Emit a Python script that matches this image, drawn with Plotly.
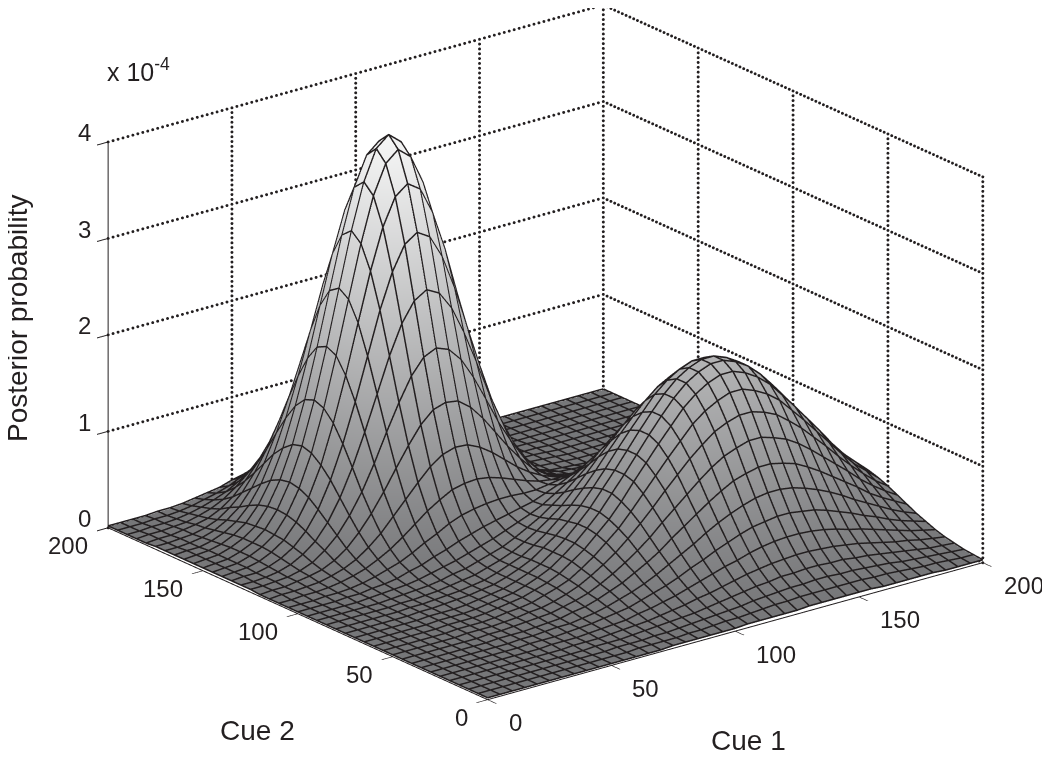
import plotly.graph_objects as go

# Heights, in units of 1e-6 (rows: Cue 2, columns: Cue 1)
cue1 = list(range(0, 201, 5))
cue2 = list(range(0, 201, 5))
r000 = [1]*15 + [2,2,2,2,2,2,3,3,3,3,3,4,4,4,4,4,4,3,3,3,3,3,2,2,2,2]
r005 = [1]*13 + [2,2,2,2,3,3,4,5,5,6,7,8,8,9,9,9,9,9,9,8,8,7,6,5,5,4,3,3]
r010 = [1]*12 + [2,2,2,3,3,4,5,6,7,8,9,11,12,13,14,14,15,15,14,14,13,12,11,9,8,7,6,5,4]
r015 = [1]*11 + [2,2,2,3,4,5,6,7,8,10,12,14,16,18,19,21,21,22,22,21,21,19,18,16,14,12,10,8,7,6]
r020 = [1]*10 + [2,2,2,3,4,5,6,8,10,12,15,17,20,23,26,28,30,31,32,32,31,30,28,26,23,20,17,15,12,10,8]
r025 = [1]*9 + [2,2,2,3,4,5,6,9,11,14,17,21,25,29,33,36,40,43,45,46,46,45,43,40,36,33,29,25,21,17,14,11]
r030 = [1]*8 + [2,2,2,3,4,5,7,9,11,15,19,23,28,34,39,45,50,55,59,61,63,63,61,59,55,50,45,39,34,28,23,19,15]
r035 = [1]*8 + [2,2,3,4,4,6,8,11,15,19,24,30,37,44,51,59,66,72,77,81,83,83,81,77,72,66,59,51,44,37,30,24,19]
r040 = [1]*7 + [2,2,2,3,4,5,8,10,14,19,24,31,38,46,56,65,74,83,91,98,102,105,105,102,98,91,83,74,65,56,46,38,31,24]
r045 = [1]*7 + [2,2,3,4,5,6,9,12,16,22,29,37,46,56,68,79,90,101,111,119,124,128,128,124,119,111,101,90,79,68,56,46,37,29]
r050 = [1]*6 + [2,2,2,3,4,6,7,10,14,19,26,34,43,54,66,79,93,106,119,130,140,146,150,150,146,140,130,119,106,93,79,66,54,43,34]
r055 = [1]*6 + [2,2,2,3,5,6,8,12,16,21,29,38,49,60,74,89,104,119,133,147,157,164,169,169,164,157,147,133,119,104,89,74,60,49,38]
r060 = [1]*6 + [2,2,2,3,5,7,9,13,17,23,32,41,53,65,80,97,113,129,144,159,170,178,183,183,178,170,159,144,129,113,97,80,65,53,41]
r065 = [1]*6 + [2,2,2,3,5,7,9,13,18,24,33,43,55,68,84,100,117,134,150,165,177,185,190,190,185,177,165,150,134,117,100,84,68,55,43]
r070 = [1]*6 + [2,2,2,3,5,7,9,13,18,24,33,43,55,68,84,100,117,134,150,165,177,185,190,190,185,177,165,150,134,117,100,84,68,55,43]
r075 = [1]*6 + [2,2,3,4,5,7,9,13,18,24,33,42,53,66,81,97,114,130,145,160,171,179,184,184,179,171,160,145,130,114,97,81,66,53,41]
r080 = [1]*6 + [2,2,3,4,5,7,9,13,18,23,31,40,51,62,76,91,107,122,136,149,160,167,172,172,167,160,149,136,121,106,91,76,61,50,39]
r085 = [1]*6 + [2,2,3,4,6,8,10,14,18,23,30,38,47,57,70,83,97,110,123,135,144,151,155,155,151,144,135,123,110,96,82,68,55,45,35]
r090 = [1]*6 + [2,3,4,5,7,10,12,16,20,24,30,37,44,53,63,74,85,97,108,118,126,132,135,135,132,126,118,107,96,84,72,60,48,39,31]
r095 = [1]*5 + [2,3,4,5,7,10,13,16,20,24,28,33,38,43,49,57,65,74,83,92,100,107,111,114,114,111,106,99,90,81,71,61,50,41,33,26]
r100 = [1]*4 + [2,2,4,5,7,11,14,19,23,28,32,36,39,42,45,48,53,58,64,70,76,82,88,91,93,93,91,87,81,74,66,58,50,41,34,27,21]
r105 = [1]*3 + [2,2,3,5,8,12,16,22,29,35,42,47,50,52,53,53,52,52,54,56,59,62,66,70,72,74,74,72,68,64,58,52,46,39,33,27,22,17]
r110 = [1]*2 + [2,2,3,5,8,12,18,25,34,44,54,62,69,72,73,71,67,62,57,53,51,51,51,53,54,56,57,56,55,52,49,45,40,35,30,25,20,17,13]
r115 = [1,2,2,3,4,7,11,17,26,37,51,65,79,92,101,105,104,98,89,78,67,58,51,46,43,42,42,42,42,42,41,39,36,33,30,26,22,19,15,13,10]
r120 = [1,2,2,4,6,9,15,24,37,53,72,93,113,131,143,147,145,135,120,102,84,68,54,45,38,34,32,31,31,30,29,28,26,24,21,19,16,14,11,9,7]
r125 = [2,2,3,4,7,12,21,33,50,71,97,126,153,177,193,199,194,180,158,132,105,82,62,47,36,29,26,24,22,22,21,19,18,17,15,13,11,10,8,7,5]
r130 = [2,2,3,5,9,16,26,42,64,92,125,161,197,227,247,255,248,229,200,166,130,99,72,52,37,27,22,18,16,15,14,13,12,11,10,9,8,7,6,5,4]
r135 = [2,3,3,6,11,19,32,51,78,112,152,196,240,276,301,310,302,278,242,199,156,116,83,57,39,26,19,15,12,11,10,9,8,8,7,6,5,5,4,3,3]
r140 = [2,3,4,7,13,22,37,59,89,129,175,226,276,318,346,356,347,319,278,228,177,131,93,63,41,26,17,12,9,8,7,6,6,5,5,4,4,3,3,3,2]
r145 = [2,3,4,8,14,23,40,64,97,140,191,246,300,346,376,387,376,346,300,246,192,142,99,66,42,26,16,11,7,6,5,4,4,3,3,3,3,2,2,2,2]
r150 = [2,3,4,8,14,24,41,66,100,144,196,253,309,356,387,398,387,356,309,253,196,144,100,66,41,24,14,8,4,3,2] + [1]*10
r155 = [2,3,4,8,14,23,40,64,97,140,191,246,300,346,376,387,376,346,300,246,191,140,97,64,40,23,14,8,4,3,2] + [1]*10
r160 = [2,3,4,7,13,22,37,59,89,129,175,226,276,318,346,356,346,318,276,226,175,129,89,59,37,22,13,7,4,3,2] + [1]*10
r165 = [2,3,3,6,11,19,32,51,78,112,152,196,240,276,300,309,300,276,240,196,152,112,78,51,32,19,11,6,3,3,2] + [1]*10
r170 = [2,2,3,5,9,16,26,42,64,92,125,161,197,226,246,253,246,226,197,161,125,92,64,42,26,16,9,5,3,2,2] + [1]*10
r175 = [2,2,3,4,7,12,21,33,50,71,97,125,153,176,191,196,191,176,153,125,97,71,50,33,21,12,7,4,3,2,2] + [1]*10
r180 = [1,2,2,4,6,9,15,24,37,52,71,92,112,129,140,144,140,129,112,92,71,52,37,24,15,9,6,4,2,2,1] + [1]*10
r185 = [1,2,2,3,4,7,11,17,26,37,50,64,78,89,97,100,97,89,78,64,50,37,26,17,11,7,4,3,2,2,1] + [1]*10
r190 = [1,1,2,2,3,5,8,12,17,24,33,42,51,59,64,66,64,59,51,42,33,24,17,12,8,5,3,2,2,1,1] + [1]*10
r195 = [1,1,1,2,2,3,5,8,11,15,21,26,32,37,40,41,40,37,32,26,21,15,11,8,5,3,2,2,1,1,1] + [1]*10
r200 = [1,1,1,1,2,2,3,5,7,9,13,16,19,22,24,24,24,22,19,16,13,9,7,5,3,2,2,1,1,1,1] + [1]*10
posterior = [r000,r005,r010,r015,r020,r025,r030,r035,r040,r045,r050,r055,r060,r065,r070,r075,r080,r085,r090,r095,
             r100,r105,r110,r115,r120,r125,r130,r135,r140,r145,r150,r155,r160,r165,r170,r175,r180,r185,r190,r195,r200]
assert len(posterior) == 41 and all(len(r) == 41 for r in posterior)

xy_ticks = [0, 50, 100, 150, 200]
z_ticks = [0, 100, 200, 300, 400]
z_labels = ["0", "1", "2", "3", "4"]
INK = "#231f20"
FONT = dict(family="Liberation Sans", size=24, color=INK)
TITLE_FONT = dict(family="Liberation Sans", size=28, color=INK)
MESH_LIFT = 1  # keeps the mesh lines from sinking into the surface

# dotted wall grid built from the tick arrays (a run of small dots along each wall line)
gx, gy, gz = [], [], []
xy_run = list(range(0, 201, 2))
z_run = list(range(0, 401, 5))
for t in xy_ticks[1:]:
    gx += [t]*len(z_run); gy += [200]*len(z_run); gz += z_run
for t in xy_ticks[:-1]:
    gx += [200]*len(z_run); gy += [t]*len(z_run); gz += z_run
for v in z_ticks:
    gx += xy_run; gy += [200]*len(xy_run); gz += [v]*len(xy_run)
    gx += [200]*len(xy_run); gy += xy_run; gz += [v]*len(xy_run)

# mesh polylines taken straight from the table
mx, my, mz = [], [], []
for j, yv in enumerate(cue2):
    mx += cue1 + [None]; my += [yv]*41 + [None]; mz += [v + MESH_LIFT for v in posterior[j]] + [None]
for i, xv in enumerate(cue1):
    mx += [xv]*41 + [None]; my += cue2 + [None]; mz += [posterior[j][i] + MESH_LIFT for j in range(41)] + [None]

fig = go.Figure()
fig.add_trace(go.Surface(
    x=cue1, y=cue2, z=posterior, cmin=0, cmax=400, showscale=False,
    colorscale=[[0, "#767779"], [1, "#f6f6f6"]],
    lighting=dict(ambient=1, diffuse=0, specular=0, roughness=1, fresnel=0),
    hoverinfo="skip",
    contours=dict(x=dict(highlight=False), y=dict(highlight=False), z=dict(highlight=False)),
))
fig.add_trace(go.Scatter3d(x=mx, y=my, z=mz, mode="lines", hoverinfo="skip", showlegend=False,
                           connectgaps=False, line=dict(color=INK, width=3)))
fig.add_trace(go.Scatter3d(x=gx, y=gy, z=gz, mode="markers", hoverinfo="skip", showlegend=False,
                           marker=dict(color=INK, size=1.7, line=dict(width=0))))
fig.add_trace(go.Scatter3d(
    x=[200, 0, 0, None, 0, 0], y=[0, 0, 200, None, 200, 200], z=[0, 0, 0, None, 0, 400],
    mode="lines", hoverinfo="skip", showlegend=False, connectgaps=False, line=dict(color=INK, width=2)))

axis = dict(showbackground=False, showgrid=False, zeroline=False, showline=True, linecolor=INK, linewidth=2,
            ticks="outside", ticklen=14, tickcolor=INK, tickwidth=2, title=dict(text=""),
            showticklabels=False, showspikes=False)

scene_notes = []
for t in xy_ticks:
    scene_notes.append(dict(x=t, y=0, z=0, text=str(t), showarrow=False, font=FONT, xanchor="left", xshift=19, yshift=-23))
    scene_notes.append(dict(x=0, y=t, z=0, text=str(t), showarrow=False, font=FONT, xanchor="right", xshift=-18, yshift=-18))
for v, s in zip(z_ticks, z_labels):
    scene_notes.append(dict(x=0, y=200, z=v, text=s, showarrow=False, font=FONT, xshift=-24, yshift=9))

fig.update_layout(
    width=1050, height=759, margin=dict(l=0, r=0, t=0, b=0), paper_bgcolor="white", showlegend=False,
    scene=dict(
        domain=dict(x=[0, 1], y=[0, 1]),
        xaxis=dict(axis, range=[0, 200], tickvals=xy_ticks),
        yaxis=dict(axis, range=[0, 200], tickvals=xy_ticks),
        zaxis=dict(axis, range=[0, 400], tickvals=z_ticks),
        aspectmode="manual", aspectratio=dict(x=1.656, y=1.624, z=1.087),
        annotations=scene_notes,
        camera=dict(projection=dict(type="orthographic"),
                    eye=dict(x=-1.178, y=-1.454, z=0.609),
                    center=dict(x=-0.026, y=0.020, z=-0.099), up=dict(x=0, y=0, z=1)),
    ),
    annotations=[
        dict(text="x 10<sup>-4</sup>", x=97/1050, y=1-62/759, xref="paper", yref="paper", xanchor="left", yanchor="middle",
             showarrow=False, font=dict(FONT, size=25)),
        dict(text="Posterior probability", x=9/1050, y=1-311/759, xref="paper", yref="paper", textangle=-90,
             xanchor="center", yanchor="middle", showarrow=False, font=TITLE_FONT),
        dict(text="Cue 2", x=249/1050, y=1-722/759, xref="paper", yref="paper", xanchor="center", yanchor="middle",
             showarrow=False, font=TITLE_FONT),
        dict(text="Cue 1", x=740/1050, y=1-732/759, xref="paper", yref="paper", xanchor="center", yanchor="middle",
             showarrow=False, font=TITLE_FONT),
    ],
)
fig.write_html("out.html")
